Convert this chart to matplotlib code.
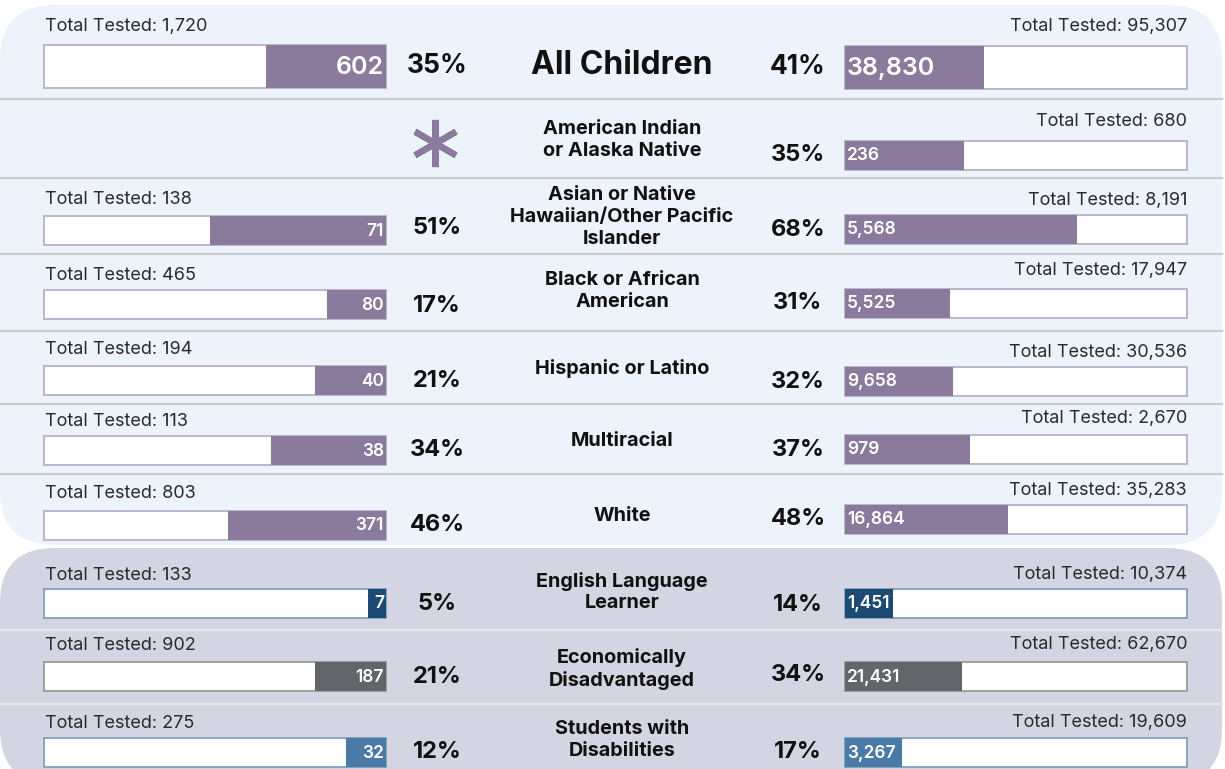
import matplotlib
matplotlib.use("Agg")
import matplotlib.pyplot as plt
from matplotlib.patches import FancyBboxPatch

plt.rcParams['font.family'] = ['Inter', 'DejaVu Sans']

# data
groups = ["All Children", "American Indian\nor Alaska Native",
          "Asian or Native\nHawaiian/Other Pacific\nIslander",
          "Black or African\nAmerican", "Hispanic or Latino", "Multiracial",
          "White", "English Language\nLearner", "Economically\nDisadvantaged",
          "Students with\nDisabilities"]
left_total = [1720, None, 138, 465, 194, 113, 803, 133, 902, 275]
left_count = [602, None, 71, 80, 40, 38, 371, 7, 187, 32]
left_pct = [35, None, 51, 17, 21, 34, 46, 5, 21, 12]
right_total = [95307, 680, 8191, 17947, 30536, 2670, 35283, 10374, 62670, 19609]
right_count = [38830, 236, 5568, 5525, 9658, 979, 16864, 1451, 21431, 3267]
right_pct = [41, 35, 68, 31, 32, 37, 48, 14, 34, 17]

PURPLE = "#8a7b9c"
fill_colors = [PURPLE] * 7 + ["#1c4a73", "#626569", "#4a7aa6"]
edge_colors = ["#b9b0c8"] * 7 + ["#7f9fc0", "#9a9a9a", "#7f9fc0"]

# layout (pixel positions in the 1225x769 canvas)
lab_y = [66, 140, 217, 291, 368, 441, 516, 592, 669, 740]
lbar_y = [66, 143, 230, 304, 380, 450, 525, 603, 676, 752]
rbar_y = [67, 155, 229, 303, 381, 449, 519, 603, 676, 752]
ltxt_y = [27, None, 200, 275, 349, 422, 494, 575, 646, 723]
rtxt_y = [27, 122, 200, 270, 352, 419, 490, 574, 645, 722]
lpct_y = [66, None, 228, 306, 381, 450, 525, 604, 677, 752]
rpct_y = [67, 155, 230, 303, 382, 450, 519, 605, 675, 752]
dividers_top = [99, 178, 254, 331, 404, 474]
dividers_bot = [630, 704]

LX, RX, W = 44, 845, 342

fig = plt.figure(figsize=(12.25, 7.69), dpi=100)
ax = fig.add_axes([0, 0, 1, 1])
ax.set_xlim(0, 1225)
ax.set_ylim(769, 0)
ax.axis("off")

# panels
ax.add_patch(FancyBboxPatch((0, 5), 1222, 540, boxstyle="round,pad=0,rounding_size=55",
                            fc="#edf3fa", ec="none", zorder=0))
ax.add_patch(FancyBboxPatch((0, 548), 1222, 236, boxstyle="round,pad=0,rounding_size=55",
                            fc="#d4d5e2", ec="none", zorder=0))
for d in dividers_top:
    ax.plot([0, 1222], [d, d], color="#c6cad1", lw=1.6, zorder=1)
for d in dividers_bot:
    ax.plot([0, 1222], [d, d], color="#e6e8ef", lw=1.6, zorder=1)

for i, g in enumerate(groups):
    big = i == 0
    h = 43 if big else 29
    ax.text(622, lab_y[i], g, ha="center", va="center", fontweight="bold",
            fontsize=23 if big else 14.3, color="#111111", linespacing=1.25, zorder=3)

    # left side (small sample)
    if left_total[i] is None:
        ax.plot(435, lbar_y[i], marker=(6, 2, 0), markersize=34, mew=4.5,
                color="#8a7b9c", zorder=3)
    else:
        frac = left_count[i] / left_total[i]
        ax.barh(lbar_y[i], W, left=LX, height=h, color="white",
                edgecolor=edge_colors[i], linewidth=1.3, zorder=2)
        ax.barh(lbar_y[i], W * frac, left=LX + W - W * frac, height=h,
                color=fill_colors[i], zorder=2)
        ax.text(LX + W - 2, lbar_y[i] + 1, f"{left_count[i]:,}", ha="right", va="center",
                color="white", fontweight="semibold", fontsize=18 if big else 12.5, zorder=3)
        ax.text(LX + 1, ltxt_y[i], f"Total Tested: {left_total[i]:,}", ha="left",
                va="center", fontsize=13, color="#2a2a2a", zorder=3)
        ax.text(437, lpct_y[i], f"{left_pct[i]}%", ha="center", va="center",
                fontweight="bold", fontsize=19 if big else 17, color="#111111", zorder=3)

    # right side (state)
    frac = right_count[i] / right_total[i]
    ax.barh(rbar_y[i], W, left=RX, height=h, color="white",
            edgecolor=edge_colors[i], linewidth=1.3, zorder=2)
    ax.barh(rbar_y[i], W * frac, left=RX, height=h, color=fill_colors[i], zorder=2)
    ax.text(RX + 2, rbar_y[i] + 1, f"{right_count[i]:,}", ha="left", va="center",
            color="white", fontweight="semibold", fontsize=18 if big else 12.5, zorder=3)
    ax.text(RX + W, rtxt_y[i], f"Total Tested: {right_total[i]:,}", ha="right",
            va="center", fontsize=13, color="#2a2a2a", zorder=3)
    ax.text(798, rpct_y[i], f"{right_pct[i]}%", ha="center", va="center",
            fontweight="bold", fontsize=19 if big else 17, color="#111111", zorder=3)

fig.savefig("out.png", dpi=100)
